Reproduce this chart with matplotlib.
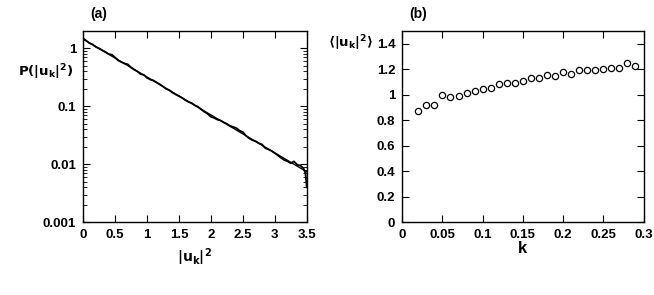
import numpy as np
import matplotlib.pyplot as plt
from matplotlib.ticker import LogLocator, FixedLocator

plt.rcParams['font.family'] = ['Liberation Sans', 'DejaVu Sans']
plt.rcParams['font.weight'] = 'bold'
plt.rcParams['mathtext.default'] = 'bf'

# panel (a): distribution of |u_k|^2
u2 = [0.00, 0.05, 0.10, 0.15, 0.20, 0.25, 0.30, 0.35, 0.40, 0.45,
      0.50, 0.55, 0.60, 0.65, 0.70, 0.75, 0.80, 0.85, 0.90, 0.95,
      1.00, 1.05, 1.10, 1.15, 1.20, 1.25, 1.30, 1.35, 1.40, 1.45,
      1.50, 1.55, 1.60, 1.65, 1.70, 1.75, 1.80, 1.85, 1.90, 1.95,
      2.00, 2.05, 2.10, 2.15, 2.20, 2.25, 2.30, 2.35, 2.40, 2.45,
      2.50, 2.55, 2.60, 2.65, 2.70, 2.75, 2.80, 2.85, 2.90, 2.95,
      3.00, 3.05, 3.10, 3.15, 3.20, 3.25, 3.30, 3.35, 3.40, 3.45,
      3.48, 3.50]
p_hist = [1.50, 1.36, 1.23, 1.17, 1.06, 1.00, 0.93, 0.87, 0.80, 0.78,
          0.70, 0.62, 0.58, 0.55, 0.53, 0.47, 0.43, 0.40, 0.36, 0.35,
          0.31, 0.29, 0.28, 0.26, 0.24, 0.22, 0.20, 0.19, 0.172, 0.160,
          0.150, 0.140, 0.128, 0.119, 0.114, 0.104, 0.098, 0.088, 0.080, 0.074,
          0.066, 0.063, 0.059, 0.057, 0.053, 0.050, 0.046, 0.044, 0.042, 0.038,
          0.036, 0.031, 0.028, 0.026, 0.025, 0.023, 0.022, 0.019, 0.018, 0.017,
          0.0155, 0.0142, 0.0128, 0.0118, 0.0112, 0.0104, 0.0112, 0.0098, 0.0095, 0.0085,
          0.0070, 0.0040]
u2_fit = [0.0, 3.5]
p_fit = [1.45, 0.0074]

# panel (b): mean |u_k|^2 vs k
k = [0.02, 0.03, 0.04, 0.05, 0.06, 0.07, 0.08, 0.09, 0.10, 0.11,
     0.12, 0.13, 0.14, 0.15, 0.16, 0.17, 0.18, 0.19, 0.20, 0.21,
     0.22, 0.23, 0.24, 0.25, 0.26, 0.27, 0.28, 0.29]
mean_u2 = [0.875, 0.919, 0.922, 1.000, 0.980, 0.993, 1.014, 1.027, 1.048, 1.053,
           1.085, 1.095, 1.095, 1.108, 1.130, 1.130, 1.156, 1.148, 1.182, 1.166,
           1.193, 1.190, 1.193, 1.203, 1.213, 1.208, 1.245, 1.229]

fig = plt.figure(figsize=(6.54, 2.95), dpi=100)
ax1 = fig.add_axes([0.127, 0.247, 0.342, 0.648])
ax2 = fig.add_axes([0.615, 0.247, 0.369, 0.648])

for ax in (ax1, ax2):
    ax.tick_params(direction='in', top=True, right=True, labelsize=9.5,
                   length=5, width=0.8, pad=5)
    ax.tick_params(which='minor', direction='in', top=True, right=True,
                   length=3, width=0.6)
    for s in ax.spines.values():
        s.set_linewidth(1.0)

ax1.plot(u2_fit, p_fit, color='black', lw=1.0)
ax1.plot(u2, p_hist, color='black', lw=1.3)
ax1.set_yscale('log')
ax1.set_xlim(0, 3.5)
ax1.set_ylim(0.001, 2)
ax1.xaxis.set_major_locator(FixedLocator([0, 0.5, 1, 1.5, 2, 2.5, 3, 3.5]))
ax1.set_xticklabels(['0', '0.5', '1', '1.5', '2', '2.5', '3', '3.5'],
                    fontweight='bold')
ax1.yaxis.set_major_locator(FixedLocator([0.001, 0.01, 0.1, 1]))
ax1.set_yticklabels(['0.001', '0.01', '0.1', '1'], fontweight='bold')
ax1.yaxis.set_minor_locator(LogLocator(base=10, subs=np.arange(2, 10)))
ax1.yaxis.set_minor_formatter(plt.NullFormatter())
ax1.set_xlabel(r'$|u_k|^2$', fontsize=10, labelpad=4)
ax1.text(-0.045, 0.785, r'$P(|u_k|^2)$', transform=ax1.transAxes,
         fontsize=9.5, ha='right', va='center')
ax1.text(0.03, 1.05, '(a)', transform=ax1.transAxes, fontsize=10,
         fontweight='bold', ha='left', va='bottom')

ax2.plot(k, mean_u2, linestyle='none', marker='o', markersize=4.5,
         markerfacecolor='white', markeredgecolor='black', markeredgewidth=0.9)
ax2.set_xlim(0, 0.3)
ax2.set_ylim(0, 1.5)
ax2.xaxis.set_major_locator(FixedLocator([0, 0.05, 0.1, 0.15, 0.2, 0.25, 0.3]))
ax2.set_xticklabels(['0', '0.05', '0.1', '0.15', '0.2', '0.25', '0.3'],
                    fontweight='bold')
ax2.yaxis.set_major_locator(FixedLocator([0, 0.2, 0.4, 0.6, 0.8, 1, 1.2, 1.4]))
ax2.set_yticklabels(['0', '0.2', '0.4', '0.6', '0.8', '1', '1.2', '1.4'],
                    fontweight='bold')
ax2.set_xlabel('k', fontsize=12, fontweight='bold', labelpad=0)
ax2.text(-0.12, 0.937, r'$\langle|u_k|^2\rangle$', transform=ax2.transAxes,
         fontsize=9.5, ha='right', va='center')
ax2.text(0.03, 1.05, '(b)', transform=ax2.transAxes, fontsize=10,
         fontweight='bold', ha='left', va='bottom')

plt.savefig('out.png', dpi=100)
